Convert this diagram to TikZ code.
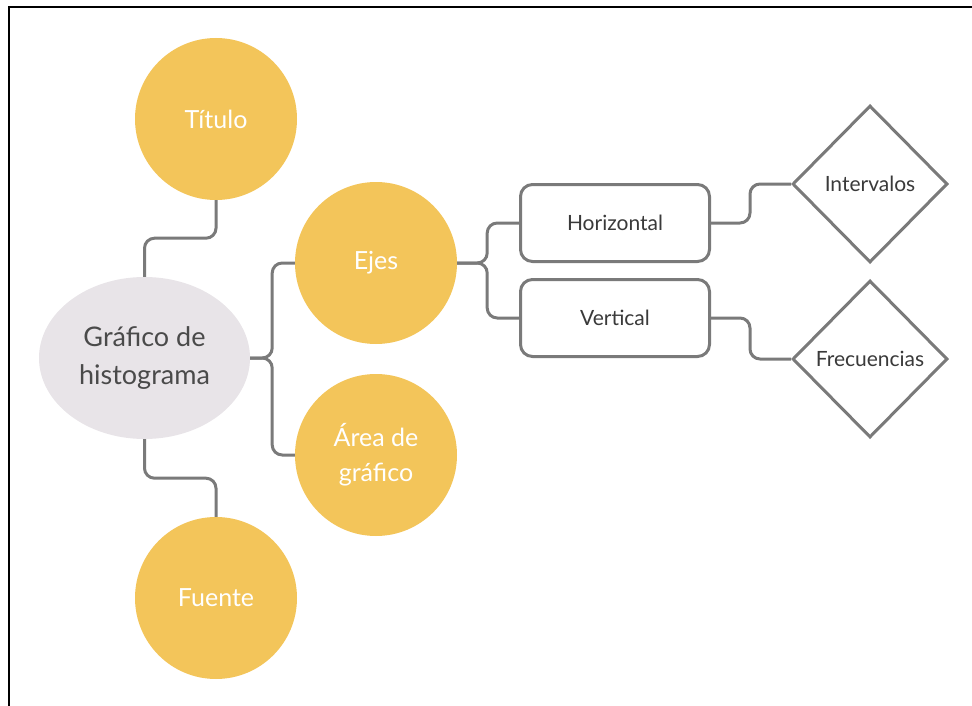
\documentclass[tikz,border=0pt]{standalone}
\usepackage{fontspec}
\setmainfont{Lato}
\usetikzlibrary{shapes.geometric}
\definecolor{ylw}{HTML}{F3C55A}
\definecolor{ell}{HTML}{E8E4E8}
\definecolor{lgray}{HTML}{7A7A7A}
\definecolor{txtd}{HTML}{4A4A4A}
\definecolor{txtb}{HTML}{3A3A3A}
\tikzset{
  ycirc/.style={circle, fill=ylw, draw=none, minimum size=162pt, inner sep=0pt, text=white, align=center, font=\fontsize{25}{35}\selectfont},
  mainell/.style={ellipse, fill=ell, draw=none, minimum width=211pt, minimum height=162pt, inner sep=0pt, text=txtd, align=center, font=\fontsize{27}{38}\selectfont},
  rbox/.style={rectangle, rounded corners=12pt, draw=lgray, line width=3pt, fill=white, minimum width=189pt, minimum height=77pt, inner sep=0pt, text=txtb, font=\fontsize{21}{25}\selectfont},
  dmd/.style={diamond, draw=lgray, line width=3pt, fill=white, minimum width=155pt, minimum height=157pt, inner sep=0pt, text=txtb, font=\fontsize{21}{25}\selectfont},
  conn/.style={draw=lgray, line width=3pt, rounded corners=10pt},
}
\begin{document}
\begin{tikzpicture}[x=1pt, y=-1pt]
\useasboundingbox (0,0) rectangle (972,706);
\draw[black, line width=2pt] (9,706) -- (9,7) -- (972,7);

\node[ycirc] (tit) at (216,119) {Título};
\node[ycirc] (fue) at (216,598) {Fuente};
\node[mainell] (graf) at (144.5,358) {Gráfico de\\histograma};
\node[ycirc] (ejes) at (376,263) {Ejes};
\node[ycirc] (area) at (376,455) {Área de\\gráfico};
\node[rbox] (hor) at (615,223) {Horizontal};
\node[rbox] (ver) at (615,318) {Vertical};
\node[dmd] (int) at (870,184) {Intervalos};
\node[dmd] (frec) at (870,359) {Frecuencias};

\draw[conn] (tit.south) -- ++(0,38) -| (graf.north);
\draw[conn] (graf.south) -- ++(0,39) -| (fue.north);
\draw[conn] (graf.east) -- ++(22,0) |- (ejes.west);
\draw[conn] (graf.east) -- ++(22,0) |- (area.west);
\draw[conn] (ejes.east) -- ++(30,0) |- (hor.west);
\draw[conn] (ejes.east) -- ++(30,0) |- (ver.west);
\draw[conn] (hor.east) -- ++(39,0) |- (int.west);
\draw[conn] (ver.east) -- ++(39,0) |- (frec.west);
\end{tikzpicture}
\end{document}
